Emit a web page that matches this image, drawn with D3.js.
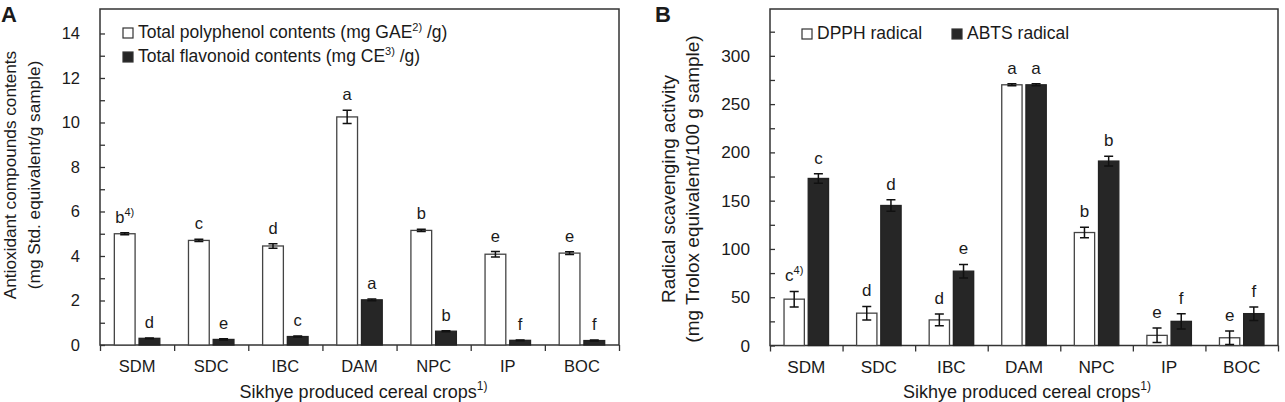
<!DOCTYPE html>
<html>
<head>
<meta charset="utf-8">
<script src="https://cdn.jsdelivr.net/npm/d3@7"></script>
<style>
  body { margin: 0; background: #fff; }
  svg text { font-family: "Liberation Sans", Arial, sans-serif; fill: #1a1a1a; }
</style>
</head>
<body>
<div id="chart"></div>
<script>
// categories (sikhye cereal crops)
const categories = ["SDM", "SDC", "IBC", "DAM", "NPC", "IP", "BOC"];

// panel A: antioxidant compounds
const polyphenol = [5.0, 4.7, 4.45, 10.25, 5.15, 4.08, 4.13];
const polyphenolErr = [0.05, 0.05, 0.1, 0.3, 0.05, 0.12, 0.06];
const polyphenolLetters = ["b", "c", "d", "a", "b", "e", "e"];
const flavonoid = [0.3, 0.25, 0.38, 2.03, 0.62, 0.21, 0.2];
const flavonoidErr = [0.02, 0.03, 0.02, 0.04, 0.02, 0.02, 0.02];
const flavonoidLetters = ["d", "e", "c", "a", "b", "f", "f"];
const ticksA = [0, 2, 4, 6, 8, 10, 12, 14];
const minorTicksA = [1, 3, 5, 7, 9, 11, 13];

// panel B: radical scavenging
const dpph = [48, 33.5, 26.5, 270, 117, 10.5, 8];
const dpphErr = [8, 7, 6, 1, 5.5, 7.5, 7];
const dpphLetters = ["c", "d", "d", "a", "b", "e", "e"];
const abts = [173, 145, 77, 270, 191, 25, 33];
const abtsErr = [5, 6, 7, 1, 5, 8, 7];
const abtsLetters = ["c", "d", "e", "a", "b", "f", "f"];
const ticksB = [0, 50, 100, 150, 200, 250, 300];
const minorTicksB = [25, 75, 125, 175, 225, 275, 325];

const svg = d3.select("#chart").append("svg")
  .attr("width", 1285)
  .attr("height", 402);

function drawPanel(p) {
  const g = svg.append("g");
  const x = d3.scaleBand().domain(categories).range([p.left, p.right]).padding(0);
  const x1 = d3.scaleBand().domain([0, 1]).range([0, x.bandwidth()])
    .paddingInner(0.16).paddingOuter(0.58);
  const y = d3.scaleLinear().domain([0, p.ymax]).range([p.bottom, p.top]);

  // frame
  g.append("rect")
    .attr("x", p.left).attr("y", p.top)
    .attr("width", p.right - p.left).attr("height", p.bottom - p.top)
    .attr("fill", "none").attr("stroke", "#333").attr("stroke-width", 1.5);

  // y axis (ticks point inward)
  const yAxis = g.append("g")
    .attr("transform", "translate(" + p.left + ",0)")
    .call(d3.axisLeft(y).tickValues(p.ticks).tickSizeInner(-5).tickSizeOuter(0).tickPadding(20));
  yAxis.select(".domain").remove();
  yAxis.selectAll("line").attr("stroke", "#333").attr("stroke-width", 1.3);
  yAxis.selectAll("text").style("font-size", p.tickFont + "px")
    .style("font-family", "Liberation Sans, Arial, sans-serif").attr("fill", "#1a1a1a");

  const yMinor = g.append("g")
    .attr("transform", "translate(" + p.left + ",0)")
    .call(d3.axisLeft(y).tickValues(p.minor).tickSize(-5).tickFormat(""));
  yMinor.select(".domain").remove();
  yMinor.selectAll("line").attr("stroke", "#333").attr("stroke-width", 1.3);

  // x axis: boundary ticks
  const xi = d3.scaleLinear().domain([0, categories.length]).range([p.left, p.right]);
  const xAxis = g.append("g")
    .attr("transform", "translate(0," + p.bottom + ")")
    .call(d3.axisBottom(xi).tickValues(d3.range(categories.length + 1)).tickSize(6).tickFormat(""));
  xAxis.select(".domain").remove();
  xAxis.selectAll("line").attr("stroke", "#333").attr("stroke-width", 1.3);

  const xLabels = g.append("g")
    .attr("transform", "translate(0," + p.bottom + ")")
    .call(d3.axisBottom(x).tickSize(0).tickPadding(15));
  xLabels.select(".domain").remove();
  xLabels.selectAll("text").style("font-size", p.tickFont + "px")
    .style("font-family", "Liberation Sans, Arial, sans-serif").attr("fill", "#1a1a1a");

  // bars, error bars, letters
  p.series.forEach((s, si) => {
    const sg = g.append("g");
    categories.forEach((c, i) => {
      const bx = x(c) + x1(si);
      const bw = x1.bandwidth();
      const v = s.values[i];
      const e = s.err[i];
      sg.append("rect")
        .attr("x", bx).attr("y", y(v))
        .attr("width", bw).attr("height", y(0) - y(v))
        .attr("fill", s.fill).attr("stroke", s.stroke).attr("stroke-width", 1.3);
      const cx = bx + bw / 2;
      const cap = 4.5;
      sg.append("path")
        .attr("d", "M" + (cx - cap) + "," + y(v + e) + "H" + (cx + cap) +
          "M" + cx + "," + y(v + e) + "V" + y(v - e) +
          "M" + (cx - cap) + "," + y(v - e) + "H" + (cx + cap))
        .attr("stroke", "#111").attr("stroke-width", 1.5).attr("fill", "none");
      const t = sg.append("text")
        .attr("x", cx).attr("y", y(v + e) - 10)
        .attr("text-anchor", "middle")
        .style("font-size", p.letterFont + "px")
        .text(s.letters[i]);
      if (i === 0 && si === 0) {
        t.append("tspan").attr("dy", -7).style("font-size", "11px").text("4)");
      }
    });
  });

  // y title
  p.yTitle.forEach((line, li) => {
    g.append("text")
      .attr("transform", "translate(" + p.yTitleX[li] + "," + p.yTitleCy + ") rotate(-90)")
      .attr("text-anchor", "middle")
      .style("font-size", p.yTitleFont + "px")
      .text(line);
  });

  // x title
  const xt = g.append("text")
    .attr("x", (p.left + p.right) / 2 + p.xTitleShift).attr("y", 398)
    .attr("text-anchor", "middle")
    .style("font-size", "18px")
    .text("Sikhye produced cereal crops");
  xt.append("tspan").attr("dy", -8).style("font-size", "12px").text("1)");

  // panel label
  g.append("text")
    .attr("x", p.labelX).attr("y", 22)
    .style("font-size", "22px").style("font-weight", "bold")
    .attr("fill", "#111")
    .text(p.label);

  // legend
  p.legend.forEach(l => {
    g.append("rect")
      .attr("x", l.x).attr("y", l.y - 10)
      .attr("width", 10).attr("height", 10)
      .attr("fill", l.fill).attr("stroke", "#333").attr("stroke-width", 1.2);
    const lt = g.append("text")
      .attr("x", l.x + 15).attr("y", l.y)
      .style("font-size", "17.5px")
      .text(l.text);
    if (l.sup) {
      lt.append("tspan").attr("dy", -7).style("font-size", "11px").text(l.sup);
      lt.append("tspan").attr("dy", 7).text(l.after);
    }
  });
}

drawPanel({
  label: "A", labelX: 1,
  left: 100, right: 619, top: 9, bottom: 345, ymax: 15.1,
  ticks: ticksA, minor: minorTicksA,
  tickFont: 16.5, letterFont: 16.5, yTitleFont: 17.2,
  yTitle: ["Antioxidant compounds contents", "(mg Std. equivalent/g sample)"],
  yTitleX: [16, 40], yTitleCy: 175, xTitleShift: 4,
  series: [
    { values: polyphenol, err: polyphenolErr, letters: polyphenolLetters, fill: "#fff", stroke: "#444" },
    { values: flavonoid, err: flavonoidErr, letters: flavonoidLetters, fill: "#262626", stroke: "#222" }
  ],
  legend: [
    { x: 123, y: 38, fill: "#fff", text: "Total polyphenol contents (mg GAE", sup: "2)", after: " /g)" },
    { x: 123, y: 62, fill: "#262626", text: "Total flavonoid contents (mg CE", sup: "3)", after: " /g)" }
  ]
});

drawPanel({
  label: "B", labelX: 655,
  left: 770, right: 1278, top: 9, bottom: 345.5, ymax: 348.5,
  ticks: ticksB, minor: minorTicksB,
  tickFont: 17.2, letterFont: 17, yTitleFont: 19,
  yTitle: ["Radical scavenging activity", "(mg Trolox equivalent/100 g sample)"],
  yTitleX: [675, 699], yTitleCy: 189, xTitleShift: 3,
  series: [
    { values: dpph, err: dpphErr, letters: dpphLetters, fill: "#fff", stroke: "#444" },
    { values: abts, err: abtsErr, letters: abtsLetters, fill: "#262626", stroke: "#222" }
  ],
  legend: [
    { x: 802, y: 39, fill: "#fff", text: "DPPH radical" },
    { x: 952, y: 39, fill: "#262626", text: "ABTS radical" }
  ]
});
</script>
</body>
</html>
